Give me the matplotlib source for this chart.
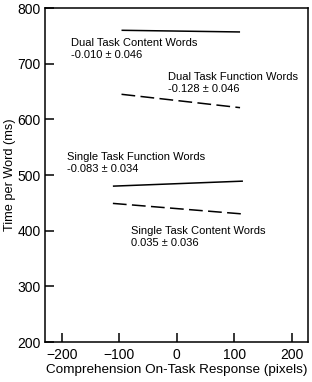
import matplotlib
matplotlib.use("Agg")
import matplotlib.pyplot as plt

plt.rcParams['font.family'] = ['Liberation Sans', 'DejaVu Sans']

# Data
series_names = ["Dual Task Content Words", "Dual Task Function Words",
                "Single Task Function Words", "Single Task Content Words"]
slopes = ["-0.010 \u00b1 0.046", "-0.128 \u00b1 0.046",
          "-0.083 \u00b1 0.034", "0.035 \u00b1 0.036"]
x_dual = [-96, 110]
x_single = [-111, 115]
dual_content = [760, 757]
dual_function = [645, 621]
single_function = [480, 489]
single_content = [449, 430]

# label anchor positions (data coords)
label_x = [-183, -16, -190, -80]
label_y = [737, 676, 532, 399]

xticks = [-200, -100, 0, 100, 200]
yticks = [200, 300, 400, 500, 600, 700, 800]

fig = plt.figure(figsize=(3.12, 3.82), dpi=100)
ax = fig.add_axes([0.1442, 0.1047, 0.8428, 0.8743])

dash = (0, (9, 3.5))
ax.plot(x_dual, dual_content, color='black', lw=1.1, solid_capstyle='butt')
ax.plot(x_dual, dual_function, color='black', lw=1.1, linestyle=dash)
ax.plot(x_single, single_function, color='black', lw=1.1, solid_capstyle='butt')
ax.plot(x_single, single_content, color='black', lw=1.1, linestyle=dash)

for name, s, lx, ly in zip(series_names, slopes, label_x, label_y):
    ax.text(lx, ly, name, fontsize=8, va='center', ha='left')
    ax.text(lx, ly - 22, s, fontsize=8, va='center', ha='left')

ax.set_xlim(-229, 228)
ax.set_ylim(200, 800)
ax.set_xticks(xticks)
ax.set_yticks(yticks)
ax.tick_params(direction='in', length=6.5, width=1.1, labelsize=10, pad=4)
ax.tick_params(axis='y', pad=3)
for sp in ax.spines.values():
    sp.set_linewidth(1.1)
ax.set_xlabel("Comprehension On-Task Response (pixels)", fontsize=9.7, labelpad=2)
ax.set_ylabel("Time per Word (ms)", fontsize=9.2, labelpad=0)
ax.yaxis.set_label_coords(-0.11, 0.5)

fig.savefig("out.png", dpi=100)
